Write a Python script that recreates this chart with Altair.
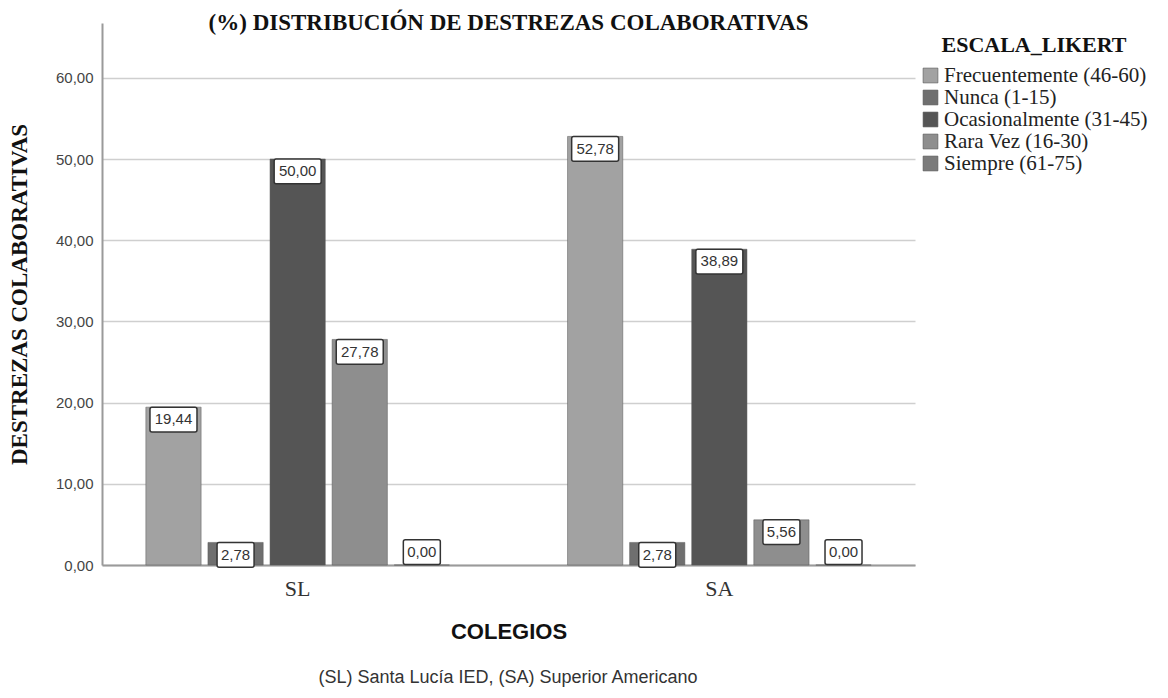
import altair as alt
import pandas as pd

colegios = ["SL", "SL", "SL", "SL", "SL", "SA", "SA", "SA", "SA", "SA"]
escala = ["Frecuentemente (46-60)", "Nunca (1-15)", "Ocasionalmente (31-45)",
          "Rara Vez (16-30)", "Siempre (61-75)"] * 2
valores = [19.44, 2.78, 50.00, 27.78, 0.00, 52.78, 2.78, 38.89, 5.56, 0.00]

cat_order = ["Frecuentemente (46-60)", "Nunca (1-15)", "Ocasionalmente (31-45)",
             "Rara Vez (16-30)", "Siempre (61-75)"]
col_order = ["SL", "SA"]
colors = ["#a2a2a2", "#6f6f6f", "#555555", "#8e8e8e", "#7b7b7b"]

df = pd.DataFrame({"colegio": colegios, "escala": escala, "valor": valores})

x = alt.X("colegio:N", sort=col_order, title="COLEGIOS",
          scale=alt.Scale(paddingInner=0.28, paddingOuter=0.104),
          axis=alt.Axis(labelAngle=0, labelFont="Liberation Serif", labelFontSize=22,
                        labelColor="#333333", labelPadding=13, ticks=False,
                        domainColor="#9a9a9a", domainWidth=2,
                        titleFont="Liberation Sans", titleFontSize=22, titleFontWeight="bold",
                        titleColor="#111111", titlePadding=22))
xo = alt.XOffset("escala:N", sort=cat_order, scale=alt.Scale(paddingInner=0.11, paddingOuter=0))

base = alt.Chart(df)

bars = base.mark_bar(stroke="#5a5a5a", strokeWidth=1, strokeOpacity=0.5).encode(
    x=x, xOffset=xo,
    y=alt.Y("valor:Q", title="DESTREZAS COLABORATIVAS",
            scale=alt.Scale(domain=[0, 66.75], nice=False, zero=True),
            axis=alt.Axis(values=[0, 10, 20, 30, 40, 50, 60],
                          labelExpr="replace(format(datum.value, '.2f'), '.', ',')",
                          labelFont="Liberation Sans", labelFontSize=15, labelColor="#444444",
                          labelPadding=9, ticks=False,
                          domainColor="#9a9a9a", domainWidth=2,
                          gridColor="#cfcfcf", gridWidth=1.5,
                          titleFont="Liberation Serif", titleFontSize=23, titleFontWeight="bold",
                          titleColor="#111111", titlePadding=24)),
    color=alt.Color("escala:N", sort=cat_order,
                    scale=alt.Scale(domain=cat_order, range=colors),
                    legend=alt.Legend(title="ESCALA_LIKERT", orient="none", legendX=818, legendY=12,
                                      titleFont="Liberation Serif", titleFontSize=22,
                                      titleFontWeight="bold", titleColor="#111111",
                                      titleAnchor="middle", titleAlign="center", titlePadding=8,
                                      titleLimit=400, labelLimit=400,
                                      labelFont="Liberation Serif", labelFontSize=21,
                                      labelColor="#222222", symbolType="square", symbolSize=220,
                                      symbolStrokeColor="#555555", symbolStrokeWidth=0.6,
                                      rowPadding=0, labelOffset=3, symbolOpacity=1)),
)

lab = base.transform_calculate(
    ly="datum.valor > 0 ? datum.valor : 3.1"
).transform_calculate(
    ly2="datum.ly - 3.05", lm="datum.ly - 1.5",
    txt="replace(format(datum.valor, '.2f'), '.', ',')"
).transform_calculate(
    bw="length(datum.txt) > 4 ? 47 : 37"
)

boxes = lab.mark_bar(fill="white", stroke="#333333", strokeWidth=1.5,
                     cornerRadius=2).encode(
    x=x, xOffset=xo, y="ly:Q", y2="ly2:Q",
    size=alt.Size("bw:Q", scale=None, legend=None))

texts = lab.mark_text(font="Liberation Sans", fontSize=15, color="#333333",
                      baseline="middle", align="center").encode(
    x=x, xOffset=xo, y="lm:Q", text="txt:N")

note = alt.Chart(pd.DataFrame({"t": ["(SL) Santa Lucía IED, (SA) Superior Americano"]})).mark_text(
    font="Liberation Sans", fontSize=18, color="#333333", align="center", baseline="middle"
).encode(x=alt.value(406), y=alt.value(655), text="t:N")

chart = alt.layer(bars, boxes, texts, note).properties(
    width=813, height=542,
    title=alt.TitleParams("(%) DISTRIBUCIÓN DE DESTREZAS COLABORATIVAS", font="Liberation Serif",
                          fontSize=23, fontWeight="bold", color="#111111", anchor="middle",
                          offset=-12),
    padding={"left": 94, "top": 15, "right": 245, "bottom": 125},
    autosize=alt.AutoSizeParams(type="none"),
).configure_view(stroke=None).configure_axisX(grid=False)

chart.save("out.html", embed_options={"renderer": "svg", "actions": False})
